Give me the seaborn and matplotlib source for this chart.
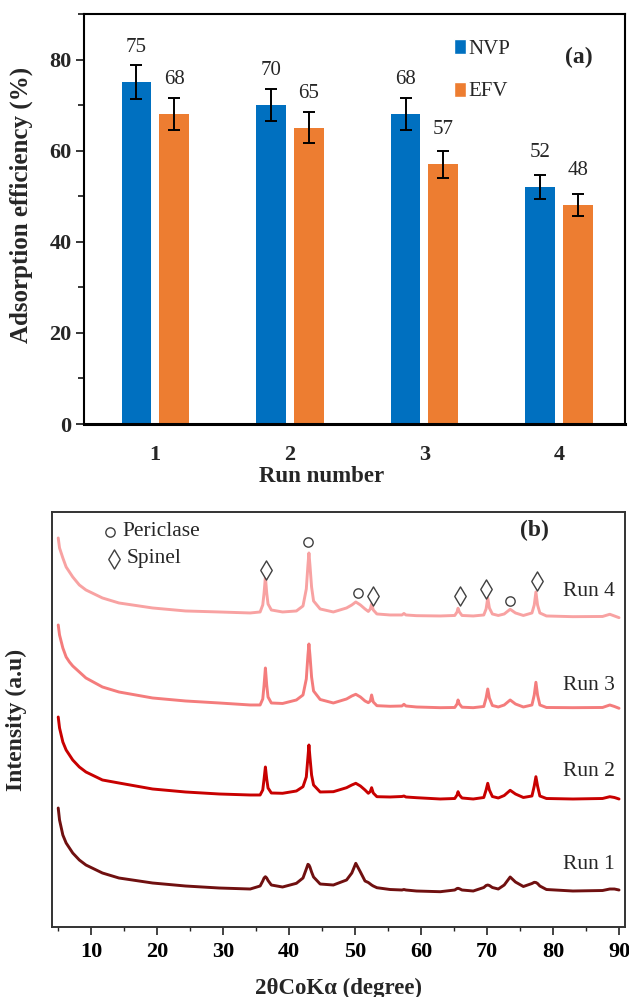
import numpy as np
import pandas as pd
import matplotlib
matplotlib.use("Agg")
import matplotlib.pyplot as plt
import seaborn as sns
from matplotlib.ticker import MultipleLocator
from matplotlib.patches import Patch

# ---------------- data: panel (a) ----------------
runs = ["1", "2", "3", "4"]
nvp = [75, 70, 68, 52]
efv = [68, 65, 57, 48]
nvp_err = [3.7, 3.6, 3.5, 2.7]
efv_err = [3.5, 3.4, 2.9, 2.4]

# ---------------- data: panel (b) XRD ----------------
two_theta = [5.0, 5.2, 5.7, 6.2, 6.7, 7.2, 8.2, 9.2, 11.7, 14.2, 19.3, 24.3, 29.4, 34.1,
             35.6, 36.0, 36.2, 36.4, 36.6, 36.8, 37.3,
             39.0, 41.1, 42.1, 42.6, 42.85, 43.0, 43.15, 43.4, 43.7, 44.7,
             46.7, 48.7, 49.5, 50.1, 50.8, 51.5, 52.0, 52.3, 52.5, 52.75, 53.3,
             55.3, 57.1, 57.4, 57.7, 59.3, 62.9,
             65.1, 65.45, 65.6, 65.8, 66.2, 67.9,
             69.5, 69.85, 70.1, 70.35, 70.8, 71.7,
             72.6, 73.5, 74.3, 75.5,
             76.8, 77.15, 77.4, 77.65, 78.0, 79.0,
             83.0, 87.5, 88.6, 89.3, 90.0]

run4 = [389, 379, 369, 360, 355, 350, 342, 337, 329, 324, 319, 316, 315, 314,
        315, 322, 334, 350, 334, 323, 317,
        315, 316, 321, 338, 362, 374, 362, 340, 326, 318,
        315, 319, 322, 325, 322, 318, 315.5, 318, 323, 317, 313,
        312, 312, 313.5, 312, 311.3, 311,
        311.5, 315, 318.7, 315, 311.5, 311,
        312, 318, 329, 319, 313, 311.5,
        313, 317.7, 314, 311.5,
        314, 322, 335, 322, 314, 311,
        310.3, 310.5, 312.7, 311, 309.3]

run3 = [302, 292, 279, 270, 265, 261, 255, 249, 240, 235, 229, 226, 224, 222,
        222, 228, 242, 259, 242, 230, 224,
        223.5, 227, 232, 248, 272, 283, 272, 250, 236, 227.5,
        224, 228, 231, 232.7, 230, 226, 224.3, 226, 232, 225, 221.3,
        220.7, 221, 222.7, 221, 220, 219.3,
        219.5, 223, 227, 223, 219.8, 219.3,
        220.5, 229, 238, 229, 221.5, 220,
        222, 227, 223, 220,
        222, 232, 244.7, 232, 222, 219.5,
        219.3, 219.5, 222, 220.5, 218.7]

run2 = [210, 199, 185, 177, 172, 167, 160, 155, 147, 144, 138, 135, 133, 132,
        132, 137, 148, 160, 148, 139, 134,
        133.7, 136, 140.3, 150, 170, 182, 170, 152, 142, 135,
        135.3, 139.3, 142, 143.7, 141, 137, 133.7, 135.5, 139.3, 134, 130.3,
        130, 130.5, 131, 130, 129.3, 128,
        128.5, 132, 135.3, 132, 129, 128,
        129.5, 137, 143.7, 137, 130.5, 129,
        131.5, 136.7, 133, 129.5,
        131, 141, 150.3, 141, 131, 128.5,
        128, 128.5, 130.3, 129.5, 128]

run1 = [119, 107, 92, 84, 79, 74, 67, 62, 54, 49, 44, 41, 39, 38,
        41, 46, 49, 50.3, 49, 46.5, 42,
        40, 43.7, 49, 58, 62.7, 62, 60, 55, 50, 43,
        42, 47, 54, 63.7, 55, 46, 44.5, 43, 42, 41, 39.3,
        37.5, 37, 37.5, 37, 36, 35.3,
        37, 38.5, 38.7, 38.3, 37, 36,
        39.5, 41.5, 42, 41.5, 39.5, 38,
        42, 50, 45, 40.5,
        43.5, 44.7, 44.5, 43.5, 41, 37.5,
        36, 36.5, 38, 38, 37]

run_names = ["Run 1", "Run 2", "Run 3", "Run 4"]
run_label_y = [63, 155, 241, 335]

periclase_x = [42.9, 50.5, 73.5]
periclase_y = [385, 334, 326]
spinel_x = [36.5, 52.7, 65.9, 69.9, 77.5]
spinel_y = [357, 331, 331, 338, 346]

# ---------------- style ----------------
sns.set_style("white")
plt.rcParams["font.family"] = ["Liberation Serif", "DejaVu Serif"]

blue = "#0070C0"
orange = "#ED7D31"
run_colors = ["#701010", "#C80000", "#F47C7C", "#F8A2A2"]

fig = plt.figure(figsize=(6.29, 9.97), dpi=100)
ax1 = fig.add_axes([0.1335, 0.5747, 0.8601, 0.4113])
ax2 = fig.add_axes([0.0827, 0.0702, 0.9109, 0.4163])

# ---------------- panel (a) ----------------
df = pd.DataFrame({"run": runs * 2,
                   "drug": ["NVP"] * 4 + ["EFV"] * 4,
                   "eff": nvp + efv})
sns.barplot(data=df, x="run", y="eff", hue="drug", palette=[blue, orange],
            width=0.56, gap=0.21, errorbar=None, saturation=1, linewidth=0,
            legend=False, ax=ax1)

for cont, errs in zip(ax1.containers, [nvp_err, efv_err]):
    for bar, e in zip(cont, errs):
        cx = bar.get_x() + bar.get_width() / 2
        h = bar.get_height()
        ax1.errorbar(cx, h, yerr=e, color="black", capsize=4.5, elinewidth=1.4,
                     capthick=1.4, fmt="none", zorder=5)
        ax1.annotate(f"{h:.0f}", (cx, h), xytext=(0, 25),
                     textcoords="offset points", ha="center", va="center",
                     fontsize=15)

ax1.set_xlim(-0.53, 3.49)
ax1.set_ylim(0, 90)
ax1.yaxis.set_major_locator(MultipleLocator(20))
ax1.yaxis.set_minor_locator(MultipleLocator(10))
ax1.tick_params(axis="y", which="major", direction="out", length=6, width=1.3,
                pad=3, labelsize=16, left=True)
ax1.tick_params(axis="y", which="minor", direction="out", length=4, width=1.3, left=True)
ax1.tick_params(axis="x", length=0, pad=15, labelsize=16)
for lab in ax1.get_xticklabels() + ax1.get_yticklabels():
    lab.set_fontweight("bold")
for s in ax1.spines.values():
    s.set_color("black")
    s.set_linewidth(1.5)
ax1.spines["bottom"].set_linewidth(2.2)

ax1.set_ylabel("Adsorption efficiency (%)", fontsize=18, fontweight="bold")
ax1.set_xlabel("Run number", fontsize=16.5, fontweight="bold")
ax1.yaxis.set_label_coords(-0.094, 0.535)
ax1.xaxis.set_label_coords(0.44, -0.103)

handles = [Patch(facecolor=blue), Patch(facecolor=orange)]
ax1.legend(handles, ["NVP", "EFV"], loc="upper left", bbox_to_anchor=(0.665, 0.965),
           frameon=False, fontsize=15, handlelength=0.55, handleheight=0.75,
           handletextpad=0.15, labelspacing=1.1, borderpad=0)
ax1.text(0.915, 0.895, "(a)", transform=ax1.transAxes, fontsize=17,
         fontweight="bold", ha="center", va="center")

# ---------------- panel (b) ----------------
for ys, c in zip([run1, run2, run3, run4], run_colors):
    sns.lineplot(x=two_theta, y=ys, color=c, linewidth=2.1, sort=False,
                 estimator=None, ax=ax2)

for name, yy in zip(run_names, run_label_y):
    ax2.text(89.4, yy, name, ha="right", va="center", fontsize=15.5)

sns.scatterplot(x=periclase_x, y=periclase_y, marker="o", s=45, facecolor="white",
                edgecolor="#404040", linewidth=1.0, ax=ax2, zorder=6)
sns.scatterplot(x=spinel_x, y=spinel_y, marker="d", s=95, facecolor="white",
                edgecolor="#404040", linewidth=1.0, ax=ax2, zorder=6)

ax2.scatter([12.9], [395], marker="o", s=45, facecolor="white", edgecolor="#404040",
            linewidth=1.0, zorder=6)
ax2.text(14.7, 395, "Periclase", ha="left", va="center", fontsize=15.5)
ax2.scatter([13.4], [368], marker="d", s=95, facecolor="white", edgecolor="#404040",
            linewidth=1.0, zorder=6)
ax2.text(15.3, 368, "Spinel", ha="left", va="center", fontsize=15.5)
ax2.text(77.2, 397, "(b)", ha="center", va="center", fontsize=17, fontweight="bold")

ax2.set_xlim(4.06, 90.9)
ax2.set_ylim(0, 415)
ax2.set_yticks([])
ax2.xaxis.set_major_locator(MultipleLocator(10))
ax2.xaxis.set_minor_locator(MultipleLocator(5))
ax2.set_xticks(range(10, 91, 10))
ax2.tick_params(axis="x", which="major", direction="out", length=6, width=1.2,
                pad=5, labelsize=16, bottom=True, colors="#222222")
ax2.tick_params(axis="x", which="minor", direction="out", length=3, width=1.0,
                bottom=True, colors="#222222")
for lab in ax2.get_xticklabels():
    lab.set_fontweight("bold")
    lab.set_color("black")
for s in ax2.spines.values():
    s.set_color("#333333")
    s.set_linewidth(1.4)

ax2.set_xlabel("2θCoKα (degree)", fontsize=16.5, fontweight="bold")
ax2.set_ylabel("Intensity (a.u)", fontsize=17, fontweight="bold")
ax2.xaxis.set_label_coords(0.5, -0.122)
ax2.yaxis.set_label_coords(-0.044, 0.5)

fig.savefig("out.png", dpi=100)
